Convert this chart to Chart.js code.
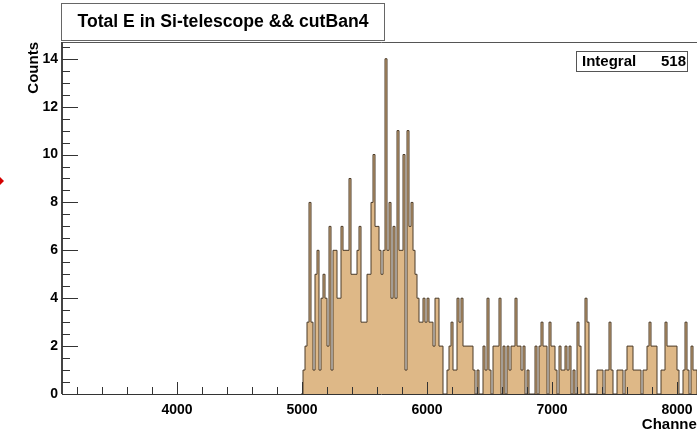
<!DOCTYPE html>
<html>
<head>
<meta charset="utf-8">
<script src="https://cdn.jsdelivr.net/npm/chart.js@4/dist/chart.umd.min.js"></script>
<style>
  html, body { margin: 0; padding: 0; background: #fff; overflow: hidden; }
  #wrap { position: relative; width: 720px; height: 432px; }
</style>
</head>
<body>
<div id="wrap"><canvas id="histo" width="720" height="432"></canvas></div>
<script>
// histogram: 16 channels per bin, first bin starts at channel 4992
const binStart = 4992;
const binWidth = 16;
const counts = [
  0, 1, 2, 3, 8, 3, 1, 5, 6, 1, 4, 5, 4, 2, 7, 1, 6, 6, 4, 4,
  7, 6, 6, 6, 9, 5, 5, 5, 6, 7, 3, 3, 3, 5, 5, 8, 10, 7, 7, 6,
  5, 6, 14, 6, 8, 4, 7, 4, 11, 6, 6, 10, 1, 11, 7, 8, 6, 5, 4, 3,
  3, 4, 3, 4, 3, 3, 2, 4, 4, 2, 2, 0, 0, 1, 2, 3, 1, 1, 4, 3,
  4, 2, 2, 2, 2, 2, 1, 0, 1, 0, 0, 2, 1, 4, 1, 0, 2, 2, 2, 4,
  0, 2, 0, 2, 1, 2, 2, 4, 2, 2, 1, 2, 0, 1, 0, 0, 0, 2, 0, 2,
  3, 2, 2, 0, 3, 2, 2, 1, 0, 2, 1, 1, 2, 1, 2, 0, 1, 0, 3, 2,
  0, 0, 4, 3, 0, 0, 0, 0, 1, 1, 1, 0, 1, 1, 3, 1, 0, 0, 1, 1,
  1, 0, 1, 2, 2, 2, 1, 1, 1, 1, 0, 1, 1, 2, 3, 2, 2, 2, 0, 0,
  1, 1, 3, 2, 2, 2, 2, 2, 1, 0, 0, 1, 3, 1, 0, 2, 1, 1, 0, 0
];
const xTickLabels = [4000, 5000, 6000, 7000, 8000];
const yTickLabels = [0, 2, 4, 6, 8, 10, 12, 14];
const integralValue = 518;

const xMin = 3080, xMax = 8192, yMax = 14.7;
const font = '"Liberation Sans", Arial, Helvetica, sans-serif';

const points = counts.map((c, i) => ({ x: binStart + i * binWidth, y: c }));
points.push({ x: binStart + counts.length * binWidth, y: counts[counts.length - 1] });

const rootDecor = {
  id: 'rootDecor',
  beforeDraw(chart) {
    const ctx = chart.ctx;
    ctx.save();
    ctx.fillStyle = '#fff';
    ctx.fillRect(0, 0, chart.width, chart.height);
    ctx.restore();
  },
  afterDraw(chart) {
    const ctx = chart.ctx;
    const a = chart.chartArea;
    const xs = chart.scales.x, ys = chart.scales.y;
    ctx.save();

    // frame
    ctx.strokeStyle = '#555';
    ctx.lineWidth = 1;
    ctx.beginPath();
    ctx.moveTo(a.left, a.top + 0.5);
    ctx.lineTo(a.right, a.top + 0.5);
    ctx.stroke();
    ctx.strokeStyle = '#444';
    ctx.lineWidth = 2;
    ctx.beginPath();
    ctx.moveTo(a.left, a.top);
    ctx.lineTo(a.left, a.bottom);
    ctx.stroke();
    ctx.lineWidth = 1;
    ctx.strokeStyle = '#333';
    ctx.beginPath();
    ctx.moveTo(a.left, a.bottom + 0.5);
    ctx.lineTo(a.right, a.bottom + 0.5);
    ctx.stroke();

    // x ticks every 200, inside the frame
    ctx.strokeStyle = '#333';
    ctx.beginPath();
    for (let v = 3200; v <= xMax; v += 200) {
      const px = Math.round(xs.getPixelForValue(v)) + 0.5;
      const len = v % 1000 === 0 ? 12 : 7;
      ctx.moveTo(px, a.bottom);
      ctx.lineTo(px, a.bottom - len);
    }
    // y ticks every 0.5
    for (let v = 0.5; v <= yMax; v += 0.5) {
      const py = Math.round(ys.getPixelForValue(v)) + 0.5;
      const len = v % 2 === 0 ? 16 : 8;
      ctx.moveTo(a.left, py);
      ctx.lineTo(a.left + len, py);
    }
    ctx.stroke();

    // title box
    ctx.fillStyle = '#fff';
    ctx.fillRect(61.5, 3.5, 323, 37);
    ctx.strokeStyle = '#666';
    ctx.strokeRect(61.5, 3.5, 323, 37);
    ctx.fillStyle = '#000';
    ctx.font = 'bold 17.6px ' + font;
    ctx.textAlign = 'center';
    ctx.textBaseline = 'middle';
    ctx.fillText('Total E in Si-telescope && cutBan4', 223, 22);

    // stats box
    ctx.fillStyle = '#fff';
    ctx.fillRect(576.5, 51.5, 111, 20);
    ctx.strokeStyle = '#555';
    ctx.strokeRect(576.5, 51.5, 111, 20);
    ctx.fillStyle = '#000';
    ctx.font = 'bold 15px ' + font;
    ctx.textBaseline = 'alphabetic';
    ctx.textAlign = 'left';
    ctx.fillText('Integral', 582, 66);
    ctx.textAlign = 'right';
    ctx.fillText(String(integralValue), 686, 66);

    // axis titles
    ctx.font = 'bold 15px ' + font;
    ctx.textAlign = 'right';
    ctx.fillText('Channel', a.right, 429);
    ctx.save();
    ctx.translate(38, a.top);
    ctx.rotate(-Math.PI / 2);
    ctx.textAlign = 'right';
    ctx.fillText('Counts', 0, 0);
    ctx.restore();

    // red marker at left edge
    ctx.fillStyle = '#d40000';
    ctx.beginPath();
    ctx.moveTo(-2, 175);
    ctx.lineTo(4, 181);
    ctx.lineTo(-2, 187);
    ctx.closePath();
    ctx.fill();

    ctx.restore();
  }
};

new Chart(document.getElementById('histo').getContext('2d'), {
  type: 'line',
  data: {
    datasets: [{
      data: points,
      stepped: 'before',
      fill: 'origin',
      backgroundColor: '#deb887',
      borderColor: '#4a3a28',
      borderWidth: 1,
      pointRadius: 0,
      tension: 0
    }]
  },
  options: {
    responsive: false,
    animation: false,
    events: [],
    layout: { padding: { top: 42, right: 19, left: 0, bottom: 0 } },
    plugins: { legend: { display: false }, title: { display: false }, tooltip: { enabled: false } },
    scales: {
      x: {
        type: 'linear',
        min: xMin,
        max: xMax,
        afterBuildTicks: s => { s.ticks = xTickLabels.map(v => ({ value: v })); },
        afterFit: s => { s.height = 38; },
        grid: { display: false, drawTicks: false },
        border: { display: false },
        ticks: {
          padding: 8,
          maxRotation: 0,
          autoSkip: false,
          color: '#000',
          callback: v => String(v),
          font: { family: font, size: 14, weight: 'bold' }
        }
      },
      y: {
        min: 0,
        max: yMax,
        afterBuildTicks: s => { s.ticks = yTickLabels.map(v => ({ value: v })); },
        afterFit: s => { s.width = 62; },
        grid: { display: false, drawTicks: false },
        border: { display: false },
        ticks: {
          padding: 4,
          color: '#000',
          callback: v => String(v),
          font: { family: font, size: 14, weight: 'bold' }
        }
      }
    }
  },
  plugins: [rootDecor]
});
</script>
</body>
</html>
